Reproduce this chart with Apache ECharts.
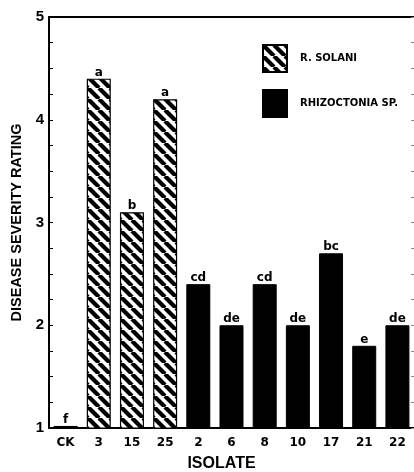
<!DOCTYPE html>
<html><head><meta charset="utf-8">
<script src="https://cdn.jsdelivr.net/npm/echarts@6/dist/echarts.min.js"></script>
<style>html,body{margin:0;padding:0;background:#fff;overflow:hidden}#c{width:414px;height:472px}</style>
</head><body><div id="c"></div>
<script>
const categories = ['CK','3','15','25','2','6','8','10','17','21','22'];
const controlValues = [1.02,'-','-','-','-','-','-','-','-','-','-'];
const solaniValues = ['-',4.4,3.1,4.2,'-','-','-','-','-','-','-'];
const rhizoValues = ['-','-','-','-',2.4,2.0,2.4,2.0,2.7,1.8,2.0];
const letters = ['f','a','b','a','cd','de','cd','de','bc','e','de'];
const yTicks = [1,2,3,4,5];

function hatch(){
  const s = 11;
  const c = document.createElement('canvas');
  c.width = s; c.height = s;
  const g = c.getContext('2d');
  g.fillStyle = '#fff'; g.fillRect(0,0,s,s);
  g.strokeStyle = '#000'; g.lineWidth = 4.2;
  for (const o of [-s,0,s]) { g.beginPath(); g.moveTo(o,0); g.lineTo(o+s,s); g.stroke(); }
  return c;
}
const pat = {image: hatch(), repeat: 'repeat'};
const font = '"Liberation Sans", Arial, sans-serif';
const wide = '"DejaVu Sans", sans-serif';
const lbl = {show:true, position:'top', distance:0, color:'#000', fontFamily:wide, fontSize:12, fontWeight:'bold',
  formatter: p => letters[p.dataIndex]};

const chart = echarts.init(document.getElementById('c'));
chart.setOption({
  animation:false,
  backgroundColor:'#fff',
  grid:{left:49, right:0, top:17, bottom:44, show:false, containLabel:false, outerBoundsMode:'none'},
  legend:{
    orient:'vertical', left:262, top:44, padding:0, itemWidth:24, itemHeight:27, itemGap:16,
    icon:'rect',
    data:['R. SOLANI','RHIZOCTONIA SP.'],
    textStyle:{fontFamily:wide, fontSize:10, fontWeight:'bold', color:'#000', padding:[0,0,0,8]}
  },
  xAxis:[{
    type:'category', data:categories,
    axisLine:{lineStyle:{color:'#000', width:2}}, axisTick:{show:false},
    axisLabel:{color:'#000', fontFamily:wide, fontWeight:'bold', fontSize:12, margin:9},
    name:'ISOLATE', nameLocation:'middle', nameGap:28,
    nameTextStyle:{color:'#000', fontFamily:font, fontWeight:'bold', fontSize:16, padding:[0,20,0,0]}
  },{
    type:'category', data:categories, position:'top',
    axisLine:{show:true, lineStyle:{color:'#000', width:2}}, axisTick:{show:false}, axisLabel:{show:false}
  }],
  yAxis:[{
    type:'value', min:1, max:5, interval:1,
    axisLine:{show:true, lineStyle:{color:'#000', width:2}},
    axisTick:{show:true, inside:true, length:4, lineStyle:{color:'#000'}},
    minorTick:{show:true, splitNumber:4, length:4, lineStyle:{color:'#000'}},
    splitLine:{show:false},
    axisLabel:{color:'#000', fontFamily:font, fontWeight:'bold', fontSize:15, margin:5,
      formatter: v => yTicks.includes(v) ? String(v) : ''},
    name:'DISEASE SEVERITY RATING', nameLocation:'middle', nameGap:19,
    nameTextStyle:{color:'#000', fontFamily:font, fontWeight:'bold', fontSize:14.5}
  },{
    type:'value', min:1, max:5, interval:1, position:'right',
    axisLine:{show:false},
    axisTick:{show:true, inside:true, length:3, lineStyle:{color:'#888'}},
    minorTick:{show:true, splitNumber:4, length:3, lineStyle:{color:'#888'}},
    splitLine:{show:false}, axisLabel:{show:false}
  }],
  series:[
    {name:'CK', type:'bar', data:controlValues, barWidth:24, barGap:'-100%',
      itemStyle:{color:'#fff', borderColor:'#000', borderWidth:1.5}, label:lbl},
    {name:'R. SOLANI', type:'bar', data:solaniValues, barWidth:24, barGap:'-100%',
      itemStyle:{color:pat, borderColor:'#000', borderWidth:1.2}, label:lbl},
    {name:'RHIZOCTONIA SP.', type:'bar', data:rhizoValues, barWidth:24, barGap:'-100%',
      itemStyle:{color:'#000', borderColor:'#000', borderWidth:1}, label:lbl}
  ]
});
</script></body></html>
